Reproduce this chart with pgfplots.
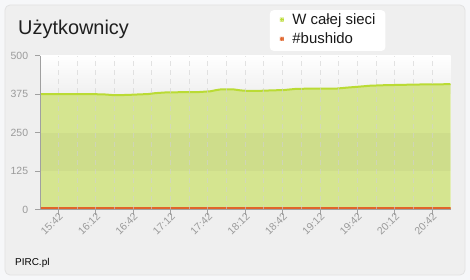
\documentclass[border=0pt]{standalone}
\usepackage{fontspec}
\setmainfont{Liberation Sans}
\usepackage{pgfplots}
\pgfplotsset{compat=1.18}
\definecolor{outerbg}{HTML}{F6F7F9}
\definecolor{panel}{HTML}{EFEFEF}
\definecolor{panelborder}{HTML}{E2E2E2}
\definecolor{greenline}{HTML}{BADB34}
\definecolor{greenfill}{HTML}{D5E590}
\definecolor{orangeline}{HTML}{E0642A}
\definecolor{ticklab}{HTML}{9A9A9A}
\definecolor{axisgray}{HTML}{A0A0A0}
\begin{document}
\begin{tikzpicture}
\fill[outerbg] (-40.3bp,-70.3bp) rectangle (429.7bp,209.7bp);
\filldraw[fill=panel, draw=panelborder, line width=0.8bp, rounded corners=5bp] (-35.3bp,-65.3bp) rectangle (424.7bp,204.7bp);
\shade[top color=white, bottom color=black!6] (0bp,115.5bp) rectangle (410.2bp,154bp);
\fill[white] (0bp,0bp) rectangle (410.2bp,115.5bp);
\node[anchor=base west, inner sep=0pt, text=black!88, font=\fontsize{20}{23}\selectfont] at (-22.3bp,174.7bp) {Użytkownicy};
\node[anchor=base west, inner sep=0pt, text=black, font=\fontsize{10}{12}\selectfont] at (-25.3bp,-55.3bp) {PIRC.pl};
\begin{axis}[
  at={(0bp,0bp)}, anchor=south west,
  scale only axis, width=410.2bp, height=154bp,
  xmin=-14.5, xmax=314.8, ymin=0, ymax=500,
  no marks,
  axis on top,
  xtick={0,30,...,300},
  xticklabels={15:42,16:12,16:42,17:12,17:42,18:12,18:42,19:12,19:42,20:12,20:42},
  minor xtick={15,45,...,285},
  xmajorgrids, xminorgrids,
  major grid style={draw=black!18, dash pattern=on 5bp off 4bp, line width=0.8bp, opacity=0.6},
  minor grid style={draw=black!18, dash pattern=on 5bp off 4bp, line width=0.8bp, opacity=0.6},
  ytick={0,125,250,375,500},
  tick align=outside,
  major tick length=5bp, minor tick length=0bp,
  tick style={draw=axisgray, line width=0.8bp},
  axis x line*=bottom, axis y line*=left,
  x axis line style={draw=axisgray, line width=1.5bp, -},
  y axis line style={draw=axisgray, line width=0.8bp, -},
  /pgf/number format/assume math mode=true,
  ticklabel style={font=\fontsize{10.5}{12}\selectfont, text=ticklab},
  yticklabel style={inner sep=0pt, xshift=-7bp},
  xticklabel style={rotate=45, anchor=east, inner sep=0pt, xshift=2bp, yshift=-2bp},
  legend cell align=left,
  legend style={at={(0.559,1.297)}, anchor=north west, draw=none, fill=white,
    rounded corners=4bp, font=\fontsize{15}{18}\selectfont, text=black!90,
    inner xsep=10bp, inner ysep=3.5bp, row sep=4.8bp,
    nodes={inner sep=0pt, text height=11bp, text depth=3.5bp},
    /tikz/every odd column/.append style={column sep=8.6bp}},
]
\addplot[fill=greenfill, draw=none, forget plot] table {
x y
-14.5 375
0 375
15 375
30 375
38 374
44 372
55 372.5
63 374
72 375.5
78 378.5
87 381
100 381.5
111 381.5
122 384.5
127 388.5
131 391
140 391
146 387.5
152 385.5
162 386
172 387.5
181 388.5
190 392
200 393
210 393
224 393.5
232 396.5
240 399
250 402.5
260 404
277 405.5
290 406.5
300 407
314.8 407.5
} \closedcycle;
\addplot[fill=orangeline!70, draw=none, forget plot] table {
x y
-14.5 5
60 5
120 5
180 5
240 5
314.8 5
} \closedcycle;
\fill[black, opacity=0.03] (axis cs:-14.5,125) rectangle (axis cs:314.8,250);
\addplot[draw=greenline, line width=2bp, line join=round, forget plot] table {
x y
-14.5 375
0 375
15 375
30 375
38 374
44 372
55 372.5
63 374
72 375.5
78 378.5
87 381
100 381.5
111 381.5
122 384.5
127 388.5
131 391
140 391
146 387.5
152 385.5
162 386
172 387.5
181 388.5
190 392
200 393
210 393
224 393.5
232 396.5
240 399
250 402.5
260 404
277 405.5
290 406.5
300 407
314.8 407.5
};
\addplot[draw=orangeline, line width=1.8bp, forget plot] table {
x y
-14.5 5
60 5
120 5
180 5
240 5
314.8 5
};
\addlegendimage{no marks, draw=none, legend image code/.code={\fill[greenline] (0bp,-0.75bp) rectangle (4bp,3.25bp);}}
\addlegendentry{W całej sieci}
\addlegendimage{no marks, draw=none, legend image code/.code={\fill[orangeline] (0bp,-0.75bp) rectangle (4bp,3.25bp);}}
\addlegendentry{\#bushido}
\end{axis}
\pgfresetboundingbox
\path[use as bounding box] (-40.3bp,-70.3bp) rectangle (429.7bp,209.7bp);
\end{tikzpicture}
\end{document}
